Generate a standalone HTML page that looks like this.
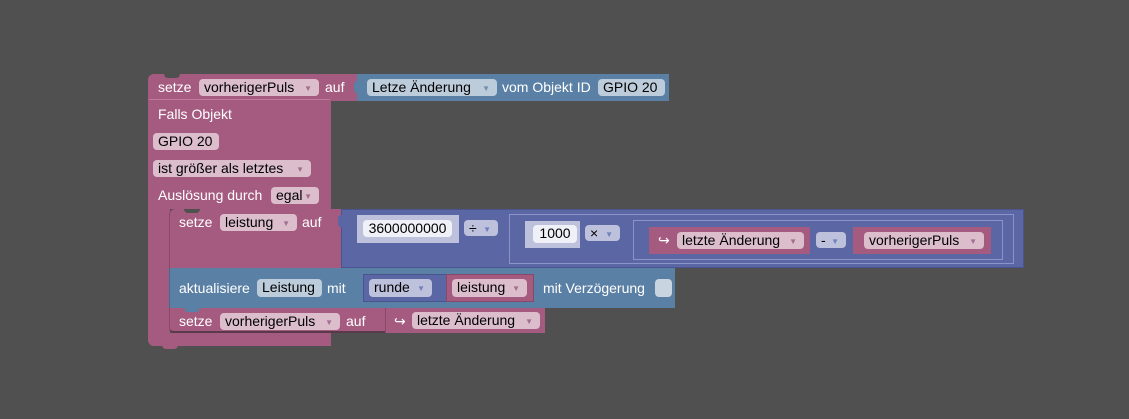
<!DOCTYPE html>
<html><head><meta charset="utf-8"><style>
html,body{margin:0;padding:0;}
body{width:1129px;height:419px;background:#505050;position:relative;overflow:hidden;font-family:"Liberation Sans",Arial,sans-serif;font-size:14px;}
div{position:absolute;box-sizing:border-box;}
.pk{background:#a55b80;}
.bl{background:#5b80a5;}
.pu{background:#5b67a5;}
.t{color:#fff;white-space:nowrap;line-height:17px;}
.p{border-radius:4px;color:#000;white-space:nowrap;line-height:17px;padding-left:5px;}
.pp{background:#dbbdcc;}
.pb{background:#bdccdb;}
.pv{background:#bdc1db;}
.pw{background:#f0f0f8;text-align:center;padding-left:0;}
.dd::after{content:"▼";font-size:8px;color:#a07090;position:absolute;right:7px;top:1px;}
.pb.dd::after{color:#7090b0;}
.pv.dd::after{color:#7080c0;}
.lp{background:#bdc1db;}
</style></head><body>

<!-- trigger body -->
<div class="pk" style="left:148px;top:74px;width:209px;height:27px;border-radius:6px 0 0 0;"></div>
<div class="pk" style="left:148px;top:99px;width:183px;height:110px;"></div>
<div class="pk" style="left:148px;top:209px;width:22px;height:130px;"></div>
<div class="pk" style="left:148px;top:333px;width:183px;height:13px;border-radius:0 0 0 6px;"></div>
<div class="pk" style="left:162px;top:344px;width:16px;height:5px;border-radius:0 0 4px 4px;"></div>
<div style="left:164px;top:74px;width:16px;height:4px;background:#505050;border-radius:0 0 4px 4px;"></div>
<div style="left:149px;top:99px;width:181px;height:1px;background:#c07a9a;"></div>

<div class="t" style="left:158px;top:79px;">setze</div>
<div class="p pp dd" style="left:199px;top:79px;width:120px;height:17px;">vorherigerPuls</div>
<div class="t" style="left:325px;top:79px;">auf</div>

<!-- Letze Änderung block -->
<div class="bl" style="left:357px;top:74px;width:312px;height:27px;"></div>
<div class="bl" style="left:354px;top:81px;width:6px;height:12px;border-radius:3px;"></div>
<div class="p pb dd" style="left:367px;top:79px;width:130px;height:17px;">Letze Änderung</div>
<div class="t" style="left:502px;top:79px;">vom Objekt ID</div>
<div class="p pb" style="left:598px;top:79px;width:67px;height:17px;">GPIO 20</div>

<div class="t" style="left:158px;top:106px;">Falls Objekt</div>
<div class="p pp" style="left:153px;top:133px;width:66px;height:17px;">GPIO 20</div>
<div class="p pp dd" style="left:153px;top:160px;width:158px;height:17px;">ist größer als letztes</div>
<div class="t" style="left:158px;top:187px;">Auslösung durch</div>
<div class="p pp dd" style="left:271px;top:187px;width:48px;height:17px;">egal</div>

<!-- setze leistung -->
<div class="pk" style="left:169px;top:209px;width:175px;height:59px;border-radius:6px 0 0 0;border-left:1px solid #8a4868;"></div>
<div style="left:184px;top:209px;width:16px;height:4px;background:#505050;border-radius:0 0 4px 4px;"></div>
<div class="t" style="left:179px;top:214px;">setze</div>
<div class="p pp dd" style="left:220px;top:214px;width:77px;height:17px;">leistung</div>
<div class="t" style="left:302px;top:214px;">auf</div>

<div class="pu" style="left:341px;top:209px;width:683px;height:59px;border:1px solid #4a5590;"></div>
<div class="pu" style="left:338px;top:215px;width:6px;height:12px;border-radius:3px;"></div>
<div class="lp" style="left:357px;top:215px;width:102px;height:28px;"></div>
<div class="p pw" style="left:363px;top:220px;width:89px;height:17px;">3600000000</div>
<div class="p pv dd" style="left:464px;top:220px;width:34px;height:16px;">÷</div>
<div class="pu" style="left:509px;top:214px;width:505px;height:50px;border:1px solid #8a94c8;"></div>
<div class="lp" style="left:525px;top:221px;width:55px;height:27px;"></div>
<div class="p pw" style="left:533px;top:225px;width:44px;height:18px;">1000</div>
<div class="p pv dd" style="left:585px;top:225px;width:35px;height:16px;">×</div>
<div class="pu" style="left:633px;top:220px;width:370px;height:40px;border:1px solid #8a94c8;"></div>
<div class="pk" style="left:649px;top:227px;width:161px;height:27px;"></div>
<div class="t" style="left:658px;top:232px;">↪</div>
<div class="p pp dd" style="left:677px;top:232px;width:127px;height:17px;">letzte Änderung</div>
<div class="p pv dd" style="left:816px;top:232px;width:30px;height:16px;">-</div>
<div class="pk" style="left:853px;top:227px;width:138px;height:27px;"></div>
<div class="p pp dd" style="left:864px;top:232px;width:120px;height:17px;">vorherigerPuls</div>

<!-- aktualisiere -->
<div class="bl" style="left:169px;top:268px;width:506px;height:40px;border-left:1px solid #456a8f;"></div>
<div class="t" style="left:179px;top:280px;">aktualisiere</div>
<div class="p pb" style="left:257px;top:279px;width:65px;height:18px;">Leistung</div>
<div class="t" style="left:327px;top:280px;">mit</div>
<div class="pu" style="left:363px;top:274px;width:84px;height:28px;border:1px solid #4a5590;"></div>
<div class="p pv dd" style="left:369px;top:279px;width:63px;height:18px;">runde</div>
<div class="pk" style="left:446px;top:274px;width:88px;height:28px;border:1px solid #8a4868;"></div>
<div class="p pp dd" style="left:452px;top:279px;width:75px;height:18px;">leistung</div>
<div class="t" style="left:543px;top:280px;">mit Verzögerung</div>
<div style="left:655px;top:279px;width:17px;height:18px;background:#c8d4e0;border-radius:4px;"></div>

<!-- setze vorherigerPuls -->
<div class="pk" style="left:169px;top:308px;width:217px;height:25px;border-left:1px solid #8a4868;border-bottom:2px solid #5a3a4a;border-radius:0 0 0 5px;"></div>
<div class="bl" style="left:184px;top:307px;width:16px;height:5px;border-radius:0 0 4px 4px;"></div>
<div class="t" style="left:179px;top:313px;">setze</div>
<div class="p pp dd" style="left:220px;top:313px;width:120px;height:17px;">vorherigerPuls</div>
<div class="t" style="left:346px;top:313px;">auf</div>
<div class="pk" style="left:385px;top:308px;width:160px;height:25px;border-left:1px solid #8a4868;"></div>
<div class="t" style="left:394px;top:313px;">↪</div>
<div class="p pp dd" style="left:412px;top:312px;width:128px;height:17px;">letzte Änderung</div>
</body></html>
